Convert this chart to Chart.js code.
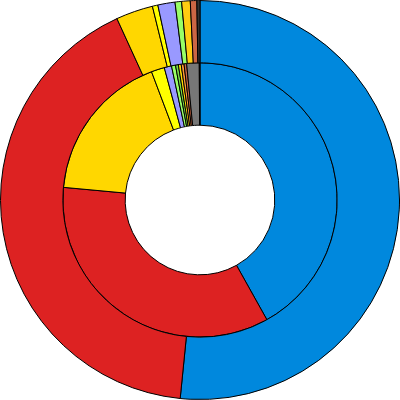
<!DOCTYPE html>
<html>
<head>
<meta charset="utf-8">
<script src="https://cdn.jsdelivr.net/npm/chart.js@4"></script>
<style>
  html, body { margin: 0; padding: 0; background: #fff; }
  canvas { display: block; }
</style>
</head>
<body>
<canvas id="donut" width="400" height="400"></canvas>
<script>
const ctx = document.getElementById('donut').getContext('2d')

// outer ring (shares, in degrees of the circle)
const outerLabels = ['Blue', 'Red', 'Gold', 'Yellow', 'Lavender', 'Green', 'Amber', 'Brown', 'Dark']
const outerValues = [185.7, 149.7, 10.8, 1.6, 5.0, 1.9, 2.5, 1.9, 0.9]
const outerColors = ['#0088dd', '#dd2222', '#ffd700', '#ffff00', '#9999ff', '#99ff66', '#ffcc11', '#cc6644', '#333333']

// inner ring
const innerLabels = ['Blue', 'Red', 'Gold', 'Yellow', 'Lavender', 'Green', 'Green 2', 'Yellow 2', 'Orange', 'Brown', 'Gray', 'Dark']
const innerValues = [150.8, 124.5, 64.0, 5.6, 3.1, 1.7, 1.2, 1.2, 1.2, 1.1, 5.3, 0.3]
const innerColors = ['#0088dd', '#dd2222', '#ffd700', '#ffff00', '#9999ff', '#99ff66', '#77dd44', '#ffdd00', '#ff9933', '#cc6644', '#777777', '#333333']

new Chart(ctx, {
    type: 'doughnut',
    data: {
        labels: outerLabels,
        datasets: [
            {
                data: outerValues,
                backgroundColor: outerColors,
                borderColor: '#000',
                borderWidth: 1
            },
            {
                data: innerValues,
                backgroundColor: innerColors,
                borderColor: '#000',
                borderWidth: 1
            }
        ]
    },
    options: {
        responsive: false,
        animation: false,
        cutout: '37.5%',
        layout: { padding: 0 },
        plugins: {
            legend: { display: false },
            tooltip: { enabled: false }
        }
    }
})
</script>
</body>
</html>
